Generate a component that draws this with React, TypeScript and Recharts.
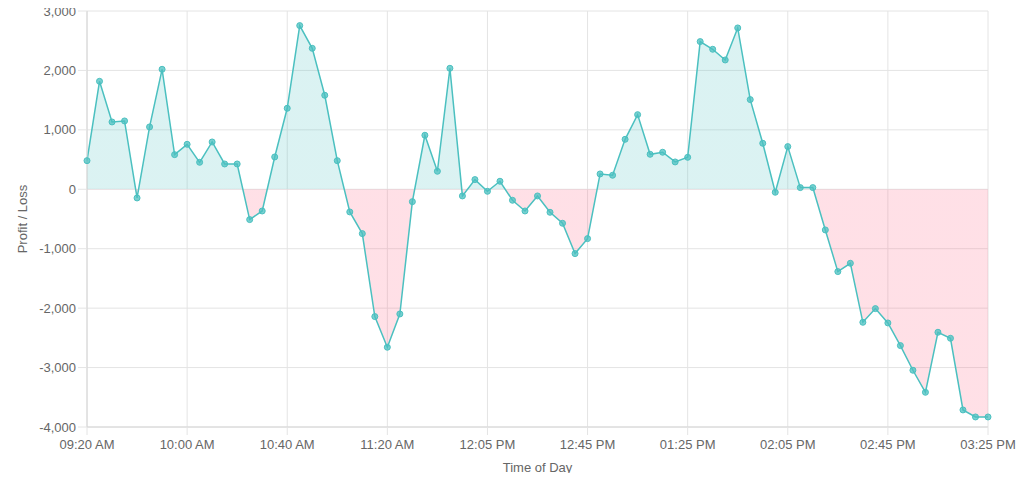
import React from 'react';
import {
  AreaChart,
  Area,
  XAxis,
  YAxis,
  CartesianGrid,
} from 'recharts';

// Time of day for each sample (every 5 min, with a short gap before noon)
const times = [
  '09:20 AM', '09:25 AM', '09:30 AM', '09:35 AM', '09:40 AM', '09:45 AM', '09:50 AM', '09:55 AM',
  '10:00 AM', '10:05 AM', '10:10 AM', '10:15 AM', '10:20 AM', '10:25 AM', '10:30 AM', '10:35 AM',
  '10:40 AM', '10:45 AM', '10:50 AM', '10:55 AM', '11:00 AM', '11:05 AM', '11:10 AM', '11:15 AM',
  '11:20 AM', '11:25 AM', '11:30 AM', '11:35 AM', '11:40 AM', '11:50 AM', '11:55 AM', '12:00 PM',
  '12:05 PM', '12:10 PM', '12:15 PM', '12:20 PM', '12:25 PM', '12:30 PM', '12:35 PM', '12:40 PM',
  '12:45 PM', '12:50 PM', '12:55 PM', '01:00 PM', '01:05 PM', '01:10 PM', '01:15 PM', '01:20 PM',
  '01:25 PM', '01:30 PM', '01:35 PM', '01:40 PM', '01:45 PM', '01:50 PM', '01:55 PM', '02:00 PM',
  '02:05 PM', '02:10 PM', '02:15 PM', '02:20 PM', '02:25 PM', '02:30 PM', '02:35 PM', '02:40 PM',
  '02:45 PM', '02:50 PM', '02:55 PM', '03:00 PM', '03:05 PM', '03:10 PM', '03:15 PM', '03:20 PM',
  '03:25 PM',
];

// Profit / loss
const profitLoss = [
  482, 1817, 1133, 1150, -146, 1049, 2019, 583,
  757, 454, 796, 426, 426, -510, -365, 544,
  1363, 2754, 2372, 1582, 482, -381, -746, -2142,
  -2658, -2098, -208, 909, 303, 2036, -112, 163,
  -34, 135, -185, -365, -112, -387, -572, -1082,
  -830, 258, 236, 841, 1256, 589, 623, 460,
  538, 2485, 2356, 2176, 2715, 1509, 774, -50,
  718, 28, 28, -684, -1385, -1245, -2238, -2008,
  -2249, -2630, -3045, -3416, -2406, -2507, -3713, -3831,
  -3831,
];

const yTicks = [-4000, -3000, -2000, -1000, 0, 1000, 2000, 3000];

const TEAL = '#4bc0c0';
const GRID = '#e4e4e4';
const TEXT = '#666666';
const FONT = '"Liberation Sans", Arial, Helvetica, sans-serif';

const data = times.map((time, i) => ({ time, value: profitLoss[i] }));

// where zero sits inside the area's bounding box, for the split fill
const maxVal = Math.max(...profitLoss);
const minVal = Math.min(...profitLoss);
const zeroOffset = maxVal / (maxVal - minVal);

const fmt = (v: number) => v.toLocaleString('en-US');

export default function App() {
  return (
    <div style={{ position: 'relative', margin: -8, width: 1024, height: 481, background: '#fff', fontFamily: FONT }}>
      {/* legend swatch, cut off by the top of the page */}
      <div style={{ position: 'absolute', left: 716, top: -11, width: 42, height: 10, border: `2px solid ${TEAL}`, background: 'rgba(75,192,192,0.2)' }} />
      <AreaChart
        width={1024}
        height={481}
        data={data}
        margin={{ top: 11, right: 36, bottom: 0, left: 0 }}
      >
        <defs>
          <linearGradient id="plSplit" x1="0" y1="0" x2="0" y2="1">
            <stop offset={zeroOffset} stopColor="rgb(75,192,192)" stopOpacity={0.2} />
            <stop offset={zeroOffset} stopColor="rgb(255,99,132)" stopOpacity={0.2} />
          </linearGradient>
        </defs>
        <CartesianGrid stroke={GRID} strokeWidth={1} />
        <XAxis
          dataKey="time"
          interval={7}
          height={54}
          tickSize={8}
          tickMargin={5}
          tickLine={{ stroke: GRID }}
          axisLine={{ stroke: '#d6d6d6' }}
          tick={{ fill: TEXT, fontSize: 13, fontFamily: FONT }}
          label={{ value: 'Time of Day', position: 'insideBottom', offset: 9, fill: TEXT, fontSize: 13, fontFamily: FONT }}
        />
        <YAxis
          width={87}
          domain={[-4000, 3000]}
          ticks={yTicks}
          tickFormatter={fmt}
          tickSize={9}
          tickMargin={2}
          tickLine={{ stroke: GRID }}
          axisLine={{ stroke: '#d6d6d6' }}
          tick={{ fill: TEXT, fontSize: 13, fontFamily: FONT }}
          label={{ value: 'Profit / Loss', angle: -90, position: 'insideLeft', offset: 22, fill: TEXT, fontSize: 13, fontFamily: FONT, style: { textAnchor: 'middle' } }}
        />
        <Area
          type="linear"
          dataKey="value"
          stroke={TEAL}
          strokeWidth={1.5}
          fill="url(#plSplit)"
          fillOpacity={1}
          dot={{ r: 3, fill: 'rgba(75,192,192,0.75)', stroke: TEAL, strokeWidth: 1 }}
          activeDot={false}
          isAnimationActive={false}
        />
      </AreaChart>
    </div>
  );
}
